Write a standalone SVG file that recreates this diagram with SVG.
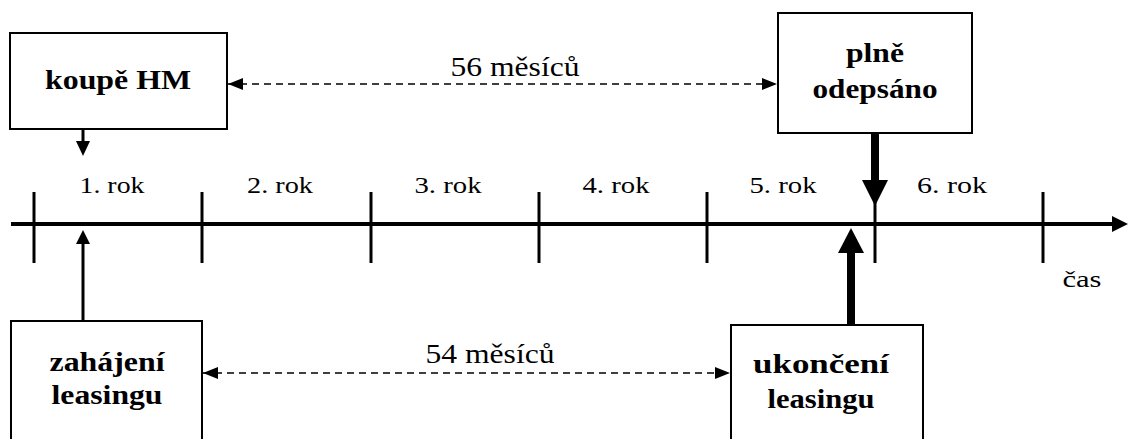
<svg xmlns="http://www.w3.org/2000/svg" width="1128" height="439" viewBox="0 0 1128 439" font-family="Liberation Serif, Times New Roman, Times, serif">
<style>
text{fill:#000;text-anchor:middle}
.lbl{font-weight:bold;font-size:28px}
.yr{font-size:23px}
.box{fill:#fff;stroke:#000;stroke-width:2}
.dash{stroke:#000;stroke-width:1.6;stroke-dasharray:7 5;fill:none}
.tick{stroke:#000;stroke-width:3}
</style>
<defs>
<marker id="ah" markerUnits="userSpaceOnUse" markerWidth="16" markerHeight="14" refX="15" refY="7" orient="auto-start-reverse"><path d="M0,1 L15,7 L0,13 Z" fill="#000"/></marker>
</defs>
<g id="axis">
<line x1="11" y1="224" x2="1114" y2="224" stroke="#000" stroke-width="4"/>
<path d="M1112,216 L1128,224 L1112,232 Z" fill="#000"/>
<line class="tick" x1="34" y1="192" x2="34" y2="263"/>
<line class="tick" x1="202" y1="192" x2="202" y2="263"/>
<line class="tick" x1="371" y1="192" x2="371" y2="263"/>
<line class="tick" x1="539" y1="192" x2="539" y2="263"/>
<line class="tick" x1="707" y1="192" x2="707" y2="263"/>
<line class="tick" x1="875" y1="192" x2="875" y2="263"/>
<line class="tick" x1="1043" y1="192" x2="1043" y2="263"/>
<text class="yr" x="112" y="193" textLength="65" lengthAdjust="spacingAndGlyphs">1. rok</text>
<text class="yr" x="280" y="193" textLength="66" lengthAdjust="spacingAndGlyphs">2. rok</text>
<text class="yr" x="448" y="193" textLength="67" lengthAdjust="spacingAndGlyphs">3. rok</text>
<text class="yr" x="616" y="193" textLength="67" lengthAdjust="spacingAndGlyphs">4. rok</text>
<text class="yr" x="783" y="193" textLength="67" lengthAdjust="spacingAndGlyphs">5. rok</text>
<text class="yr" x="952" y="193" textLength="70" lengthAdjust="spacingAndGlyphs">6. rok</text>
<text class="yr" x="1082" y="287" textLength="39" lengthAdjust="spacingAndGlyphs">čas</text>
</g>
<g id="node-koupe">
<rect class="box" x="10" y="33" width="217" height="96"/>
<text class="lbl" x="118" y="89" textLength="146" lengthAdjust="spacingAndGlyphs">koupě HM</text>
</g>
<g id="node-odepsano">
<rect class="box" x="778" y="13" width="194" height="120"/>
<text class="lbl" x="875" y="62" textLength="58" lengthAdjust="spacingAndGlyphs">plně</text>
<text class="lbl" x="875" y="98" textLength="125" lengthAdjust="spacingAndGlyphs">odepsáno</text>
</g>
<g id="node-zahajeni">
<rect class="box" x="11" y="321" width="191" height="130"/>
<text class="lbl" x="107" y="371" textLength="115" lengthAdjust="spacingAndGlyphs">zahájení</text>
<text class="lbl" x="107" y="404" textLength="111" lengthAdjust="spacingAndGlyphs">leasingu</text>
</g>
<g id="node-ukonceni">
<rect class="box" x="731" y="325" width="192" height="130"/>
<text class="lbl" x="821" y="373" textLength="136" lengthAdjust="spacingAndGlyphs">ukončení</text>
<text class="lbl" x="821" y="408" textLength="107" lengthAdjust="spacingAndGlyphs">leasingu</text>
</g>
<g id="connectors">
<line x1="83" y1="129" x2="83" y2="142" stroke="#000" stroke-width="3"/>
<path d="M76,141 L90,141 L83,156 Z" fill="#000"/>
<line x1="83" y1="321" x2="83" y2="243" stroke="#000" stroke-width="3"/>
<path d="M76,244 L90,244 L83,230 Z" fill="#000"/>
<line x1="875" y1="133" x2="875" y2="182" stroke="#000" stroke-width="8"/>
<path d="M862,180 L888,180 L875,206 Z" fill="#000"/>
<line x1="851" y1="325" x2="851" y2="251" stroke="#000" stroke-width="8"/>
<path d="M838,253 L864,253 L851,228 Z" fill="#000"/>
<line class="dash" x1="228" y1="84" x2="777" y2="84" marker-start="url(#ah)" marker-end="url(#ah)"/>
<line class="dash" x1="203" y1="373" x2="730" y2="373" marker-start="url(#ah)" marker-end="url(#ah)"/>
<text class="yr" x="515" y="76" style="font-size:28px" textLength="129" lengthAdjust="spacingAndGlyphs">56 měsíců</text>
<text class="yr" x="490" y="363" style="font-size:28px" textLength="129" lengthAdjust="spacingAndGlyphs">54 měsíců</text>
</g>
</svg>
